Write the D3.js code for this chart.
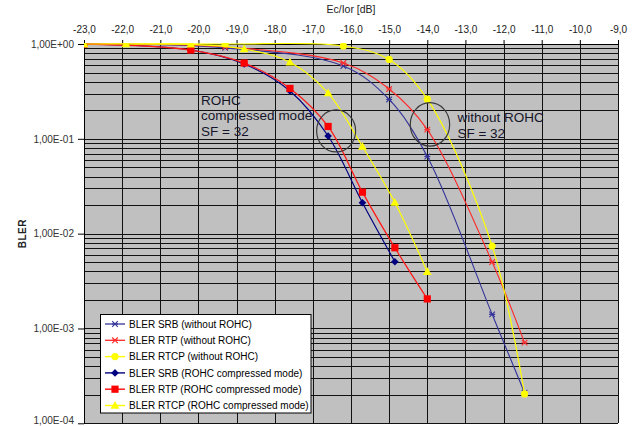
<!DOCTYPE html>
<html>
<head>
<meta charset="utf-8">
<script src="https://cdn.jsdelivr.net/npm/d3@7"></script>
<style>
  html, body { margin: 0; padding: 0; background: #fff; }
  svg { display: block; font-family: "Liberation Sans", Arial, sans-serif; }
</style>
</head>
<body>
<svg id="chart" width="637" height="426"></svg>
<script>
// ---------- data ----------
const xWithout = [-23, -19.3, -16.2, -15.0, -14.0, -12.3, -11.45];
const srbWithout  = [1.0, 0.91, 0.586, 0.26, 0.0651, 0.00141, 0.00021];
const rtpWithout  = [1.0, 0.93, 0.63, 0.335, 0.125, 0.00502, 0.000708];
const rtcpWithout = [1.0, 1.0, 0.953, 0.687, 0.262, 0.00741, 0.000204];

const xComp = [-23, -21.9, -20.2, -18.8, -17.6, -16.6, -15.7, -14.85, -14.0];
const srbComp  = [1.0, null, 0.864, 0.615, 0.32, 0.107, 0.0212, 0.00506, null];
const rtpComp  = [1.0, null, 0.864, 0.63, 0.34, 0.135, 0.0274, 0.0071, 0.00205];
const rtcpComp = [1.0, 1.0, 0.99, 0.886, 0.641, 0.303, 0.083, 0.0213, 0.00397];

const seriesNames = [
  "BLER SRB (without ROHC)",
  "BLER RTP (without ROHC)",
  "BLER RTCP (without ROHC)",
  "BLER SRB (ROHC compressed mode)",
  "BLER RTP (ROHC compressed mode)",
  "BLER RTCP (ROHC compressed mode)"
];

const xTicks = [-23, -22, -21, -20, -19, -18, -17, -16, -15, -14, -13, -12, -11, -10, -9];
const yTicks = [1, 1e-1, 1e-2, 1e-3, 1e-4];
const yTickLabels = ["1,00E+00", "1,00E-01", "1,00E-02", "1,00E-03", "1,00E-04"];

const xTitle = "Ec/Ior [dB]";
const yTitle = "BLER";

const annotations = [
  { x: -19.93, y: 0.2274, lines: ["ROHC", "compressed mode", "SF = 32"] },
  { x: -13.21, y: 0.1503, lines: ["without ROHC", "SF = 32"] }
];
const rings = [
  { x: -16.39, y: 0.121, rx: 19.5, ry: 21 },
  { x: -13.93, y: 0.142, rx: 19.7, ry: 21.7 }
];

// ---------- styles ----------
const styles = [
  { color: "#33339a", width: 1.1, marker: "asterisk" },
  { color: "#ff2a2a", width: 1.1, marker: "asterisk" },
  { color: "#ffff00", width: 1.2, marker: "circle" },
  { color: "#000080", width: 1.2, marker: "diamond" },
  { color: "#ff1a1a", width: 1.3, marker: "square" },
  { color: "#ffff00", width: 1.2, marker: "triangle" }
];

const seriesData = [
  [xWithout, srbWithout], [xWithout, rtpWithout], [xWithout, rtcpWithout],
  [xComp, srbComp], [xComp, rtpComp], [xComp, rtcpComp]
].map(([xs, ys]) => xs.map((xv, i) => ({ x: xv, y: ys[i] })).filter(d => d.y != null));

// ---------- layout ----------
const pL = 84, pR = 618, pT = 44, pB = 423.3;

const svg = d3.select("#chart");
const xS = d3.scaleLinear().domain([-23, -9]).range([pL, pR]);
const yS = d3.scaleLog().domain([1e-4, 1]).range([pB, pT]);

// plot background
svg.append("rect").attr("x", pL).attr("y", pT)
  .attr("width", pR - pL).attr("height", pB - pT)
  .attr("fill", "#c0c0c0");

// grid
const grid = svg.append("g").attr("shape-rendering", "crispEdges");
const minorY = [];
for (let e = -4; e < 0; e++) for (let k = 1; k <= 9; k++) minorY.push(k * Math.pow(10, e));
minorY.push(1);
grid.selectAll("line.h").data(minorY).join("line")
  .attr("x1", pL).attr("x2", pR)
  .attr("y1", d => Math.round(yS(d)) + 0.5).attr("y2", d => Math.round(yS(d)) + 0.5)
  .attr("stroke", "#111").attr("stroke-width", 1);
grid.selectAll("line.v").data(xTicks).join("line")
  .attr("y1", pT).attr("y2", pB)
  .attr("x1", d => Math.round(xS(d)) + 0.5).attr("x2", d => Math.round(xS(d)) + 0.5)
  .attr("stroke", "#111").attr("stroke-width", 1);

// axes
const xAxis = d3.axisTop(xS).tickValues(xTicks).tickSize(4).tickSizeOuter(0)
  .tickFormat(d => d.toFixed(1).replace(".", ","));
const gx = svg.append("g").attr("transform", `translate(0,${pT})`).call(xAxis);
gx.selectAll("text").attr("font-size", 10).attr("fill", "#222")
  .attr("font-family", "Liberation Sans, Arial, sans-serif").attr("dy", "-0.4em");
gx.select(".domain").attr("stroke", "#000");

const yAxis = d3.axisLeft(yS).tickValues(yTicks).tickSize(6).tickSizeOuter(0)
  .tickFormat((d, i) => yTickLabels[i]);
const gy = svg.append("g").attr("transform", `translate(${pL},0)`).call(yAxis);
gy.selectAll("text").attr("font-size", 10).attr("fill", "#333")
  .attr("font-family", "Liberation Sans, Arial, sans-serif").attr("dx", "-0.1em")
  .attr("dy", (d, i) => i === yTicks.length - 1 ? "0.05em" : "0.32em");
gy.select(".domain").attr("stroke", "#000");

// axis titles
svg.append("text").attr("x", (pL + pR) / 2).attr("y", 13)
  .attr("text-anchor", "middle").attr("font-size", 10.5).attr("fill", "#222")
  .text(xTitle);
svg.append("text").attr("transform", `translate(26,${(pT + pB) / 2}) rotate(-90)`)
  .attr("text-anchor", "middle").attr("font-size", 10).attr("font-weight", "bold")
  .attr("fill", "#222").attr("letter-spacing", "0.5px").text(yTitle);

// clip
svg.append("clipPath").attr("id", "plotclip").append("rect")
  .attr("x", pL).attr("y", pT - 1).attr("width", pR - pL).attr("height", pB - pT + 1);

// marker drawer
function drawMarker(g, type, color) {
  switch (type) {
    case "asterisk":
      g.append("path").attr("d", d3.symbol(d3.symbolTimes, 22)())
        .attr("stroke", color).attr("stroke-width", 1.1).attr("fill", "none");
      g.append("path").attr("d", "M-3,0H3")
        .attr("stroke", color).attr("stroke-width", 1.1);
      break;
    case "circle":
      g.append("circle").attr("r", 3.6).attr("fill", color);
      break;
    case "diamond":
      g.append("path").attr("d", "M0,-3.8L3.8,0L0,3.8L-3.8,0Z").attr("fill", color);
      break;
    case "square":
      g.append("rect").attr("x", -3.6).attr("y", -3.6).attr("width", 7.2).attr("height", 7.2).attr("fill", "#ff0000");
      break;
    case "triangle":
      g.append("path").attr("d", "M0,-4.6L4.4,3.2L-4.4,3.2Z").attr("fill", color);
      break;
  }
}

// series
const lineGen = d3.line().x(d => xS(d.x)).y(d => yS(d.y)).curve(d3.curveCatmullRom.alpha(0.5));
const plot = svg.append("g").attr("clip-path", "url(#plotclip)");
seriesData.forEach((data, i) => {
  const s = styles[i];
  const g = plot.append("g");
  g.append("path").datum(data).attr("d", lineGen)
    .attr("fill", "none").attr("stroke", s.color).attr("stroke-width", s.width);
  data.forEach(d => {
    const m = g.append("g").attr("transform", `translate(${xS(d.x)},${yS(d.y)})`);
    drawMarker(m, s.marker, s.color);
  });
});

// rings
svg.selectAll("ellipse.ring").data(rings).join("ellipse")
  .attr("cx", d => xS(d.x)).attr("cy", d => yS(d.y))
  .attr("rx", d => d.rx).attr("ry", d => d.ry)
  .attr("fill", "none").attr("stroke", "#3a3a3a").attr("stroke-width", 1.2);

// annotation texts
annotations.forEach(a => {
  const t = svg.append("text").attr("x", xS(a.x)).attr("y", yS(a.y))
    .attr("font-size", 13.5).attr("fill", "#15152a");
  a.lines.forEach((ln, i) => {
    t.append("tspan").attr("x", xS(a.x)).attr("dy", i === 0 ? 0 : 15.5).text(ln);
  });
});

// legend
const lg = svg.append("g");
const lgX = 100.5, lgY = 314.5, lgW = 210.5, lgH = 98.5;
lg.append("rect").attr("x", lgX).attr("y", lgY).attr("width", lgW).attr("height", lgH)
  .attr("fill", "#fff").attr("stroke", "#000").attr("stroke-width", 1);
seriesNames.forEach((name, i) => {
  const cy = 324 + i * 16.3;
  const s = styles[i];
  lg.append("line").attr("x1", 105).attr("x2", 125).attr("y1", cy).attr("y2", cy)
    .attr("stroke", s.color).attr("stroke-width", s.width + 0.2);
  const m = lg.append("g").attr("transform", `translate(115,${cy})`);
  drawMarker(m, s.marker, s.color);
  lg.append("text").attr("x", 129).attr("y", cy + 3.6)
    .attr("font-size", 10).attr("fill", "#000").text(name);
});
</script>
</body>
</html>
